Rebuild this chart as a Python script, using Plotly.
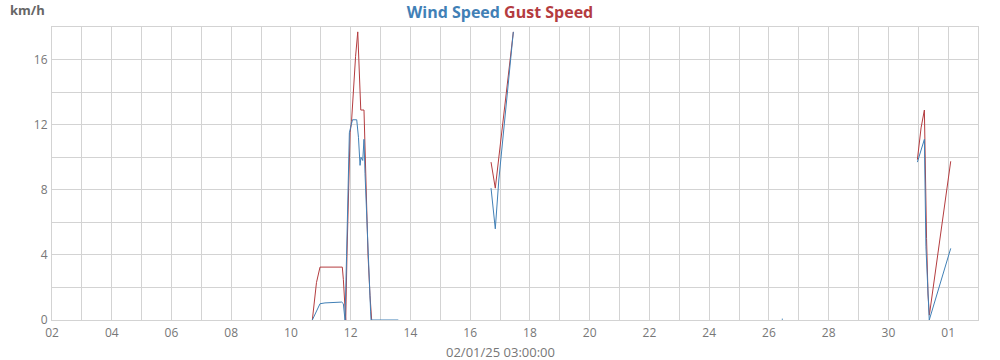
import plotly.graph_objects as go

# Wind speed (km/h) - gaps separated by None
wind_times = [
    "2025-01-10 17:10", "2025-01-10 23:20", "2025-01-11 03:20", "2025-01-11 16:45",
    "2025-01-11 18:05", "2025-01-11 19:25", "2025-01-11 20:40", "2025-01-11 21:50",
    "2025-01-11 22:55", "2025-01-11 23:50", "2025-01-12 01:25", "2025-01-12 04:50",
    "2025-01-12 06:15", "2025-01-12 07:30", "2025-01-12 08:15", "2025-01-12 09:40",
    "2025-01-12 10:40", "2025-01-12 11:30", "2025-01-12 13:10", "2025-01-12 14:45",
    "2025-01-12 16:00", "2025-01-12 16:20", "2025-01-13 14:15",
    "2025-01-14 00:00",
    "2025-01-16 16:45", "2025-01-16 20:10", "2025-01-16 23:00", "2025-01-17 10:40",
    "2025-01-18 00:00",
    "2025-01-26 10:20", "2025-01-26 11:20",
    "2025-01-27 00:00",
    "2025-01-30 23:18", "2025-01-31 01:30", "2025-01-31 04:55", "2025-01-31 06:10",
    "2025-01-31 07:45", "2025-01-31 08:50", "2025-02-01 02:05",
]
wind_values = [
    0, 1.0, 1.05, 1.1,
    1.0, 0, 3.9, 7.7,
    11.5, 11.8, 12.3, 12.3,
    11.2, 9.5, 10.0, 9.8,
    11.1, 9.0, 5.5, 2.0,
    0.5, 0, 0,
    None,
    8.1, 5.6, 8.6, 17.7,
    None,
    0.05, 0.05,
    None,
    9.7, 10.3, 11.1, 4.5,
    1.6, 0, 4.4,
]

# Gust speed (km/h)
gust_times = [
    "2025-01-10 17:10", "2025-01-10 18:30", "2025-01-10 20:30", "2025-01-10 23:20",
    "2025-01-11 17:15", "2025-01-11 18:05", "2025-01-11 19:25", "2025-01-11 20:00",
    "2025-01-11 21:00", "2025-01-11 22:40", "2025-01-11 23:30", "2025-01-12 00:40",
    "2025-01-12 02:15", "2025-01-12 03:55", "2025-01-12 05:40", "2025-01-12 06:30",
    "2025-01-12 07:30", "2025-01-12 08:05", "2025-01-12 10:40", "2025-01-12 12:20",
    "2025-01-12 13:55", "2025-01-12 15:30", "2025-01-12 16:50",
    "2025-01-14 00:00",
    "2025-01-16 16:45", "2025-01-16 20:10", "2025-01-17 10:40",
    "2025-01-18 00:00",
    "2025-01-30 23:18", "2025-01-31 00:40", "2025-01-31 02:15", "2025-01-31 04:55",
    "2025-01-31 05:40", "2025-01-31 06:40", "2025-01-31 07:50", "2025-01-31 08:55",
    "2025-02-01 02:05",
]
gust_values = [
    0, 1.0, 2.3, 3.25,
    3.25, 2.5, 0.2, 0,
    4.0, 8.8, 11.5, 12.2,
    14.5, 16.2, 17.7, 16.0,
    13.8, 12.9, 12.9, 8.0,
    4.0, 1.5, 0,
    None,
    9.7, 8.1, 17.7,
    None,
    9.85, 10.8, 11.8, 12.9,
    8.5, 5.0, 1.6, 0.3,
    9.75,
]

y_ticks = [0, 4, 8, 12, 16]

BLUE = "#4180b6"
RED = "#b43c3f"
GRID = "#d3d3d3"
TEXT = "#777777"
FONT = "Open Sans"

fig = go.Figure()
fig.add_trace(go.Scatter(x=gust_times, y=gust_values, mode="lines",
                         line=dict(color=RED, width=1), connectgaps=False,
                         name="Gust Speed", showlegend=False))
fig.add_trace(go.Scatter(x=wind_times, y=wind_values, mode="lines",
                         line=dict(color=BLUE, width=1), connectgaps=False,
                         name="Wind Speed", showlegend=False))

fig.update_layout(
    width=1000, height=360,
    margin=dict(l=52, r=22, t=27, b=40),
    paper_bgcolor="white", plot_bgcolor="white",
    font=dict(family=FONT, size=12, color=TEXT),
    title=dict(
        text=f"<b><span style='color:{BLUE}'>Wind Speed</span> "
             f"<span style='color:{RED}'>Gust Speed</span></b>",
        x=0.5, xref="container", xanchor="center",
        y=1 - 12 / 360, yref="container", yanchor="middle",
        font=dict(family=FONT, size=16),
    ),
    xaxis=dict(
        type="date",
        range=["2025-01-02", "2025-02-02"],
        tick0="2025-01-02", dtick=2 * 86400000,
        tickformat="%d",
        showgrid=True, gridcolor=GRID, gridwidth=1,
        minor=dict(dtick=86400000, showgrid=True, gridcolor=GRID, gridwidth=1),
        showline=True, linecolor=GRID, linewidth=1, mirror=True,
        ticks="", zeroline=False, ticklabelstandoff=2,
        tickfont=dict(family=FONT, size=12, color=TEXT),
    ),
    yaxis=dict(
        range=[0, 18],
        tickvals=y_ticks,
        ticktext=[str(v) for v in y_ticks],
        showgrid=True, gridcolor=GRID, gridwidth=1,
        minor=dict(dtick=2, showgrid=True, gridcolor=GRID, gridwidth=1),
        showline=True, linecolor=GRID, linewidth=1, mirror=True,
        ticks="", zeroline=False, ticklabelstandoff=1,
        tickfont=dict(family=FONT, size=12, color=TEXT),
    ),
    annotations=[
        dict(text="<b>km/h</b>", xref="paper", yref="paper",
             x=(27 - 52) / 926, y=1 + (27 - 10) / 293,
             xanchor="center", yanchor="middle", showarrow=False,
             font=dict(family=FONT, size=13, color="#666666")),
        dict(text="02/01/25 03:00:00", xref="paper", yref="paper",
             x=(500 - 52) / 926, y=-(352 - 320) / 293,
             xanchor="center", yanchor="middle", showarrow=False,
             font=dict(family=FONT, size=13, color=TEXT)),
    ],
)

fig.write_html("out.html")
